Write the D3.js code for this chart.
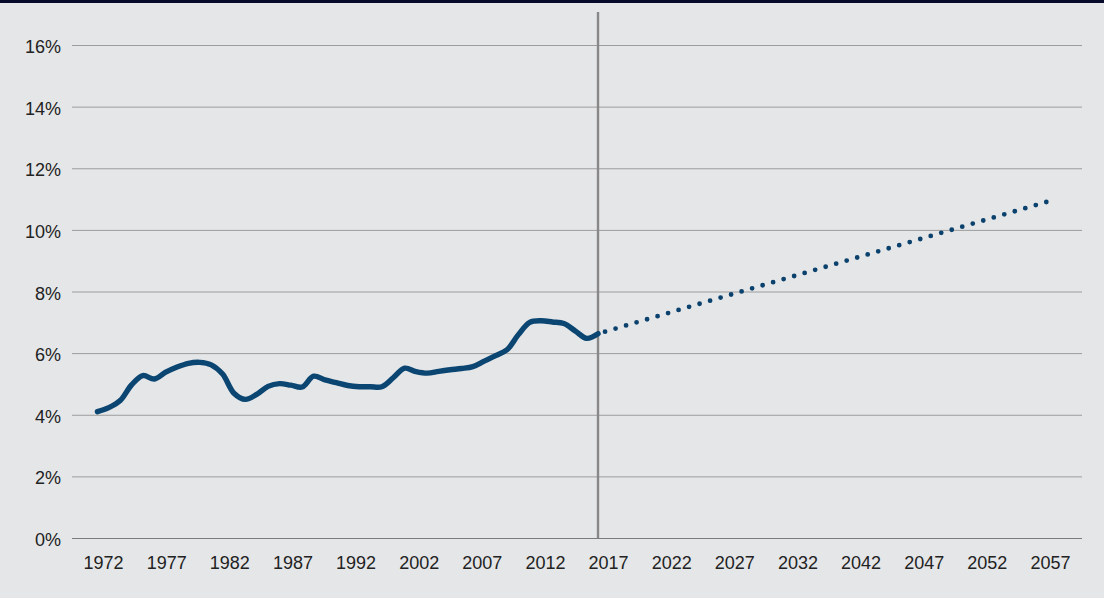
<!DOCTYPE html>
<html>
<head>
<meta charset="utf-8">
<script src="https://cdn.jsdelivr.net/npm/d3@7"></script>
<style>
  html, body { margin: 0; padding: 0; background: #e5e6e8; }
  svg { display: block; font-family: Lato, "Open Sans", sans-serif; }
  .axis text { fill: #222; font-size: 18px; }
</style>
</head>
<body>
<svg id="chart"></svg>
<script>
// historical series (share, %)
const histYears = [1972, 1973, 1974, 1975, 1976, 1977, 1978, 1979, 1980, 1981,
  1982, 1983, 1984, 1985, 1986, 1987, 1988, 1989, 1990, 1991,
  1992, 1993, 1994, 1995, 1996, 1997, 1998, 1999, 2000, 2001,
  2002, 2003, 2004, 2005, 2006, 2007, 2008, 2009, 2010, 2011,
  2012, 2013, 2014, 2015, 2016];
const histValues = [4.10, 4.23, 4.46, 4.97, 5.27, 5.16, 5.38, 5.55, 5.67, 5.70,
  5.62, 5.32, 4.70, 4.50, 4.66, 4.92, 5.01, 4.96, 4.90, 5.25,
  5.13, 5.04, 4.95, 4.91, 4.91, 4.91, 5.20, 5.51, 5.40, 5.35,
  5.41, 5.46, 5.50, 5.56, 5.74, 5.92, 6.11, 6.60, 7.00, 7.05,
  7.01, 6.96, 6.72, 6.48, 6.63];

// projection (dotted)
const projYears = [2016, 2025, 2035, 2045, 2057];
const projValues = [6.63, 7.58, 8.63, 9.68, 10.94];

// axis labels as printed
const xLabels = ['1972', '1977', '1982', '1987', '1992', '2002', '2007', '2012',
  '2017', '2022', '2027', '2032', '2042', '2047', '2052', '2057'];
const yTicks = [0, 2, 4, 6, 8, 10, 12, 14, 16];
const dividerYear = 2016;

const W = 1104, H = 598;
const margin = {top: 45, right: 22, bottom: 60, left: 72};
const width = W - margin.left - margin.right;
const height = H - margin.top - margin.bottom;

const svg = d3.select('#chart').attr('width', W).attr('height', H);

// dark band on top
svg.append('rect').attr('x', 0).attr('y', 0).attr('width', W).attr('height', 3).attr('fill', '#050a2b');

const chart = svg.append('g').attr('transform', `translate(${margin.left},${margin.top})`);

const y = d3.scaleLinear().domain([0, 16]).range([height, 0]);

// category axis for labels
const xBand = d3.scaleBand().domain(xLabels).range([0, width]);

// year scale for the line (history and projection steps differ slightly)
const xYear = d3.scaleLinear()
  .domain([1972, dividerYear, 2057])
  .range([width * 0.0252, width * 0.5208, width * 0.9683]);

// gridlines + y labels
const yAxisG = chart.append('g').attr('class', 'axis y-axis')
  .call(d3.axisLeft(y).tickValues(yTicks).tickFormat(d => d + '%').tickSize(-width).tickPadding(11));
yAxisG.select('.domain').remove();
yAxisG.selectAll('.tick line').attr('stroke', d => d === 0 ? '#7c7c7c' : '#9c9c9c').attr('stroke-width', 1);
yAxisG.selectAll('.tick text').attr('dy', '0.42em');

// x labels
const xAxisG = chart.append('g').attr('class', 'axis x-axis')
  .attr('transform', `translate(0,${height})`)
  .call(d3.axisBottom(xBand).tickSize(0).tickPadding(18));
xAxisG.select('.domain').remove();

// vertical divider
chart.append('line')
  .attr('x1', xYear(dividerYear)).attr('x2', xYear(dividerYear))
  .attr('y1', y(17.07)).attr('y2', y(0))
  .attr('stroke', '#888').attr('stroke-width', 2.4);

const hist = histYears.map((yr, i) => ({yr, v: histValues[i]}));
const proj = projYears.map((yr, i) => ({yr, v: projValues[i]}));

const line = d3.line().x(d => xYear(d.yr)).y(d => y(d.v));

chart.append('path')
  .datum(proj)
  .attr('fill', 'none')
  .attr('stroke', '#0b416d')
  .attr('stroke-width', 4.8)
  .attr('stroke-linecap', 'round')
  .attr('stroke-dasharray', '0 10.95')
  .attr('stroke-dashoffset', 3.6)
  .attr('d', line);

chart.append('path')
  .datum(hist)
  .attr('fill', 'none')
  .attr('stroke', '#0b4672')
  .attr('stroke-width', 5.4)
  .attr('stroke-linecap', 'round')
  .attr('stroke-linejoin', 'round')
  .attr('d', line.curve(d3.curveCatmullRom.alpha(0.5)));
</script>
</body>
</html>
